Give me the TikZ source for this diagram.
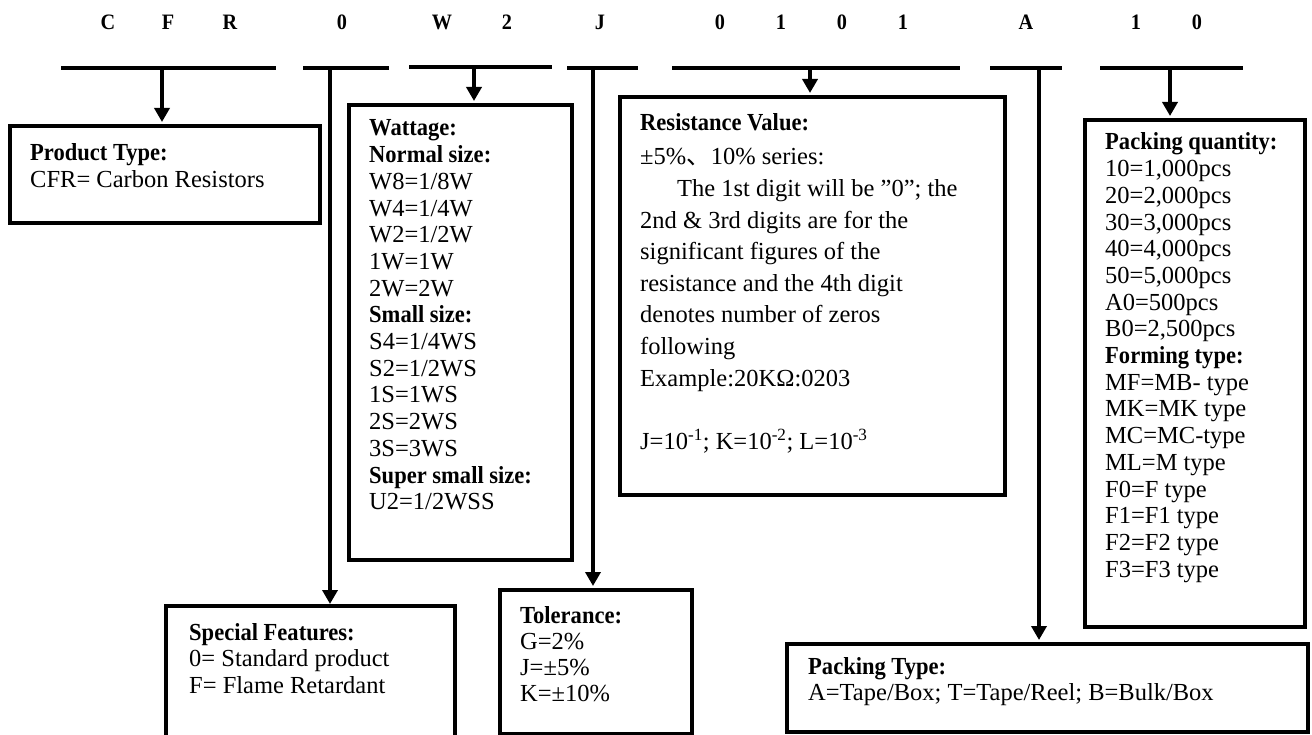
\documentclass[tikz,border=0pt]{standalone}
\usepackage{fontspec}
\setmainfont[BoldFeatures={FakeStretch=0.92}]{Liberation Serif}
\newfontfamily\cjkfont{Noto Sans CJK SC}
\usetikzlibrary{arrows.meta}
\begin{document}
\begin{tikzpicture}[x=1pt,y=-1pt,
  bar/.style={line width=4pt},
  conn/.style={line width=3.5pt,-{Triangle[width=15pt,length=14pt]},shorten >=2pt},
  box/.style={draw,line width=4pt,inner sep=0pt,anchor=north west},
  openbox/.style={inner sep=0pt,anchor=north west},
  code/.style={anchor=base,inner sep=0pt,font=\fontsize{22}{22}\selectfont\bfseries},
  txt/.style={anchor=base west,inner sep=0pt,font=\fontsize{24.5}{26.7}\selectfont},
  txtres/.style={anchor=base west,inner sep=0pt,font=\fontsize{24.5}{31.6}\selectfont},
]
\useasboundingbox (0,0) rectangle (1312,735);

% code letters
\foreach \n/\x/\t in {c1/108/C,c2/168/F,c3/230/R,c4/342/0,c5/442/W,c6/507/2,c7/600/J,
  c8/720/0,c9/781/1,c10/842/0,c11/903/1,c12/1026/A,c13/1136/1,c14/1197/0}
  \node[code] (\n) at (\x,29.5) {\t};

% bars
\coordinate (b1l) at (61,68);   \coordinate (b1r) at (276,68);
\coordinate (b2l) at (303,68);  \coordinate (b2r) at (389,68);
\coordinate (b3l) at (409,67);  \coordinate (b3r) at (552,67);
\coordinate (b4l) at (567,68);  \coordinate (b4r) at (638,68);
\coordinate (b5l) at (672,68);  \coordinate (b5r) at (960,68);
\coordinate (b6l) at (990,68);  \coordinate (b6r) at (1062,68);
\coordinate (b7l) at (1100,68); \coordinate (b7r) at (1243,68);
\foreach \b in {b1,b2,b3,b4,b5,b6,b7}
  \draw[bar] (\b l) -- (\b r);

% boxes
\node[box,minimum width=310pt,minimum height=97pt] (prod) at (8,124) {};
\node[openbox,minimum width=289pt,minimum height=129pt] (spec) at (166,606) {};
\draw[line width=4pt] (spec.south west) -- (spec.north west) -- (spec.north east) -- (spec.south east);
\node[box,minimum width=223pt,minimum height=455pt] (watt) at (347,103) {};
\node[box,minimum width=192pt,minimum height=144pt] (tol) at (498,588) {};
\node[box,minimum width=385pt,minimum height=398pt] (res) at (618,95) {};
\node[box,minimum width=521pt,minimum height=88pt] (ptype) at (785,642) {};
\node[box,minimum width=220pt,minimum height=507pt] (pqty) at (1083,118) {};

% connectors
\coordinate (s1) at (162,68);
\coordinate (s2) at (330,68);
\coordinate (s3) at (474,67);
\coordinate (s4) at (593,68);
\coordinate (s5) at (810,68);
\coordinate (s6) at (1039,68);
\coordinate (s7) at (1170,68);
\draw[conn] (s1) -- (s1 |- prod.north);
\draw[conn] (s2) -- (s2 |- spec.north);
\draw[conn] (s3) -- (s3 |- watt.north);
\draw[conn] (s4) -- (s4 |- tol.north);
\draw[conn] (s5) -- (s5 |- res.north);
\draw[conn] (s6) -- (s6 |- ptype.north);
\draw[conn] (s7) -- (s7 |- pqty.north);

% texts
\node[txt] (prodtxt) at (30,161) {\parbox[t]{300pt}{\textbf{Product Type:}\\CFR= Carbon Resistors}};

\node[txt,font=\fontsize{24.5}{26.5}\selectfont] (spectxt) at (189,640) {\parbox[t]{300pt}{\textbf{Special Features:}\\0= Standard product\\F= Flame Retardant}};

\node[txt] (watttxt) at (369,136) {\parbox[t]{300pt}{\textbf{Wattage:}\\\textbf{Normal size:}\\W8=1/8W\\W4=1/4W\\W2=1/2W\\1W=1W\\2W=2W\\\textbf{Small size:}\\S4=1/4WS\\S2=1/2WS\\1S=1WS\\2S=2WS\\3S=3WS\\\textbf{Super small size:}\\U2=1/2WSS}};

\node[txt,font=\fontsize{24.5}{26}\selectfont] (toltxt) at (520,623) {\parbox[t]{300pt}{\textbf{Tolerance:}\\G=2\%\\J=±5\%\\K=±10\%}};

\node[txtres] (restxt) at (640,131) {\parbox[t]{400pt}{\textbf{Resistance Value:}\\[2.4pt]±5\%{\cjkfont 、}10\% series:\\\hspace*{37pt}The 1st digit will be ”0”; the\\2nd \& 3rd digits are for the\\significant figures of the\\resistance and the 4th digit\\denotes number of zeros\\following\\Example:20KΩ:0203\\[31.6pt]J=10\textsuperscript{-1}; K=10\textsuperscript{-2}; L=10\textsuperscript{-3}}};

\node[txt] (ptypetxt) at (808,674) {\parbox[t]{500pt}{\textbf{Packing Type:}\\A=Tape/Box; T=Tape/Reel; B=Bulk/Box}};

\node[txt] (pqtytxt) at (1105,150) {\parbox[t]{300pt}{\textbf{Packing quantity:}\\10=1,000pcs\\20=2,000pcs\\30=3,000pcs\\40=4,000pcs\\50=5,000pcs\\A0=500pcs\\B0=2,500pcs\\\textbf{Forming type:}\\MF=MB- type\\MK=MK type\\MC=MC-type\\ML=M type\\F0=F type\\F1=F1 type\\F2=F2 type\\F3=F3 type}};
\end{tikzpicture}
\end{document}
